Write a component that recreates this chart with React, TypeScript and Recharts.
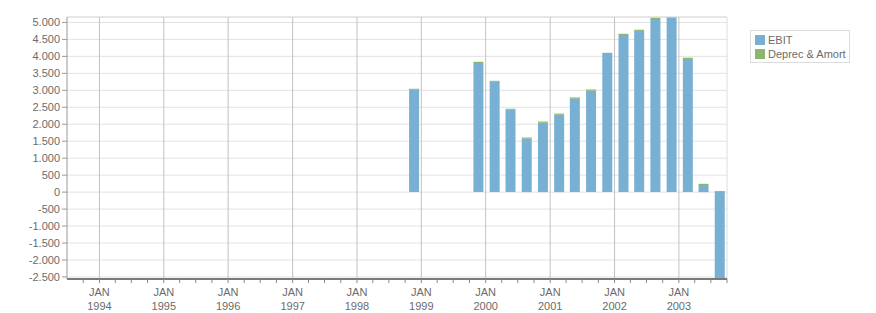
import { Bar, BarChart, CartesianGrid, Legend, ReferenceLine, XAxis, YAxis } from "recharts";

// fiscal quarter end dates
const periods = [
  "1998-11-20", "1999-11-20", "2000-02-20", "2000-05-20", "2000-08-20", "2000-11-20",
  "2001-02-20", "2001-05-20", "2001-08-20", "2001-11-20", "2002-02-20", "2002-05-20",
  "2002-08-20", "2002-11-20", "2003-02-20", "2003-05-20", "2003-08-20",
];
const ebit = [3015, 3805, 3250, 2425, 1580, 2045, 2280, 2755, 2990, 4070, 4630, 4750, 5100, 5190, 3920, 210, -2600];
const deprecAmort = [30, 35, 30, 30, 30, 35, 35, 35, 35, 35, 35, 35, 40, 40, 40, 35, 30];

const yTicks = [-2500, -2000, -1500, -1000, -500, 0, 500, 1000, 1500, 2000, 2500, 3000, 3500, 4000, 4500, 5000];
const years = [1994, 1995, 1996, 1997, 1998, 1999, 2000, 2001, 2002, 2003];

const series = [
  { key: "ebit", name: "EBIT", color: "#78b0d3" },
  { key: "da", name: "Deprec & Amort", color: "#8cb66d" },
];

const X_MIN = Date.UTC(1993, 6, 1);
const X_MAX = Date.UTC(2003, 9, 1);
const Y_MIN = -2560;
const Y_MAX = 5160;

const data = periods.map((p, i) => ({ t: Date.parse(p), ebit: ebit[i], da: deprecAmort[i] }));

// quarterly minor ticks, labels only on January
const quarterTicks: number[] = [];
for (let y = 1993; y <= 2003; y++) {
  for (let m = 0; m < 12; m += 3) {
    const t = Date.UTC(y, m, 1);
    if (t > X_MIN && t <= X_MAX) quarterTicks.push(t);
  }
}

const FONT = "'Liberation Sans', Arial, sans-serif";
const TEXT = "#6b6b6b";

function fmt(v: number) {
  const s = Math.abs(v).toString().replace(/\B(?=(\d{3})+(?!\d))/g, ".");
  return v < 0 ? "-" + s : s;
}

function XTick(props: any) {
  const { x, y, payload } = props;
  const d = new Date(payload.value);
  if (d.getUTCMonth() !== 0) return null;
  return (
    <g>
      <text x={x} y={y} dy={11} textAnchor="middle" fill={TEXT} fontSize={11} fontFamily={FONT}>JAN</text>
      <text x={x} y={y} dy={25} textAnchor="middle" fill={TEXT} fontSize={11} fontFamily={FONT}>{d.getUTCFullYear()}</text>
    </g>
  );
}

function LegendBox() {
  return (
    <div
      style={{
        border: "1px solid #dcdcdc",
        background: "#fff",
        padding: "2px 3px 1px 4px",
        fontFamily: FONT,
        fontSize: 11,
        color: TEXT,
        whiteSpace: "nowrap",
        display: "inline-block",
      }}
    >
      {series.map((s) => (
        <div key={s.key} style={{ display: "flex", alignItems: "center", height: 14 }}>
          <div style={{ width: 10, height: 10, background: s.color, marginRight: 3 }}></div>
          <span>{s.name}</span>
        </div>
      ))}
    </div>
  );
}

export default function App() {
  return (
    <div style={{ position: "absolute", left: 0, top: 0, background: "#fff" }}>
      <BarChart
        width={876}
        height={313}
        data={data}
        stackOffset="sign"
        margin={{ top: 17, right: 149, bottom: 0, left: 0 }}
      >
        <CartesianGrid vertical={false} stroke="#e2e2e2" />
        {years.map((y) => (
          <ReferenceLine key={y} x={Date.UTC(y, 0, 1)} stroke="#c2c2c2" />
        ))}
        <ReferenceLine y={Y_MAX} stroke="#dcdcdc" />
        <ReferenceLine x={X_MAX} stroke="#dcdcdc" />
        <XAxis
          dataKey="t"
          type="number"
          domain={[X_MIN, X_MAX]}
          ticks={quarterTicks}
          interval={0}
          height={34}
          tickSize={4}
          tickMargin={2}
          tickLine={{ stroke: "#8a8a8a" }}
          axisLine={{ stroke: "#7a7a7a", strokeWidth: 2 }}
          tick={<XTick />}
        />
        <YAxis
          width={67}
          domain={[Y_MIN, Y_MAX]}
          ticks={yTicks}
          interval={0}
          allowDataOverflow
          tickSize={5}
          tickMargin={2}
          tickFormatter={fmt}
          tick={{ fill: TEXT, fontSize: 11, fontFamily: FONT }}
          tickLine={{ stroke: "#999" }}
          axisLine={{ stroke: "#999" }}
        />
        <Legend
          layout="vertical"
          align="center"
          verticalAlign="middle"
          wrapperStyle={{ left: 750, top: 30, width: "auto" }}
          content={() => <LegendBox />}
        />
        {series.map((s) => (
          <Bar
            key={s.key}
            dataKey={s.key}
            name={s.name}
            stackId="a"
            fill={s.color}
            barSize={10}
            isAnimationActive={false}
          />
        ))}
      </BarChart>
    </div>
  );
}
